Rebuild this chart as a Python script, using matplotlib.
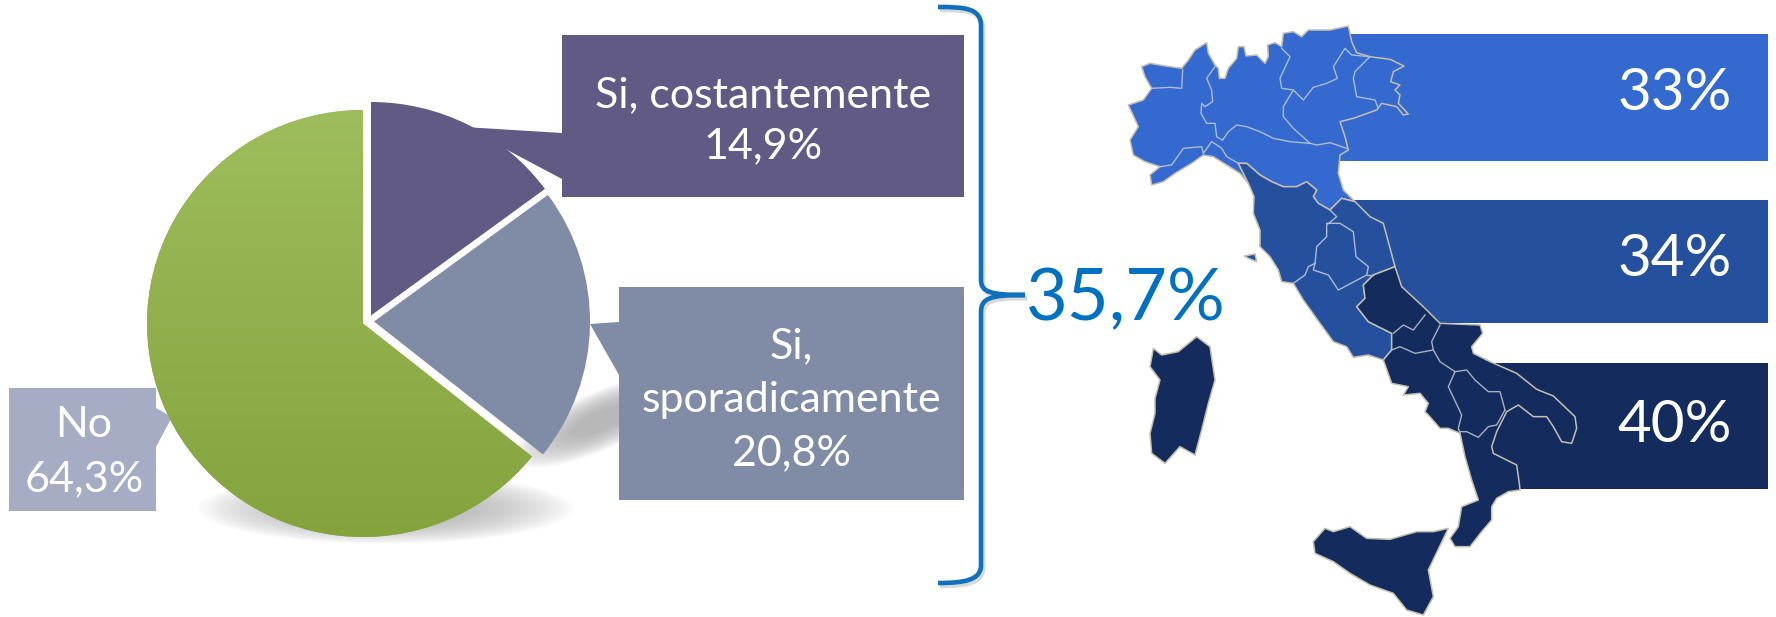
import numpy as np
import matplotlib
matplotlib.use("Agg")
import matplotlib.pyplot as plt
from matplotlib.patches import Polygon, Rectangle, PathPatch
from matplotlib.path import Path

W, H = 1776, 617

# pie
PIE_LABELS = ["Si, costantemente\n14,9%", "Si,\nsporadicamente\n20,8%", "No\n64,3%"]
PIE_VALUES = [14.9, 20.8, 64.3]
PIE_COLORS = ["#615A85", "#808BA5", "#96B454"]
BRACE_LABEL = "35,7%"

# bars next to the map
BAR_LABELS = ["33%", "34%", "40%"]
BAR_COLORS = ["#3469CF", "#25509D", "#142B5E"]

N_NORTH = [(125,200),(150,190),(190,197),(245,205),(265,180),(285,150),(320,128),(325,160),(345,195),(355,205),
           (358,235),(375,235),(385,205),(410,175),(415,140),(432,140),(438,168),(470,165),(495,190),(505,170),
           (503,135),(525,128),(545,140),(550,100),(580,95),(605,110),(625,90),(690,90),(745,78),(755,125),
           (770,158),(810,170),(870,178),(912,198),(880,215),(872,245),(900,255),(885,270),(900,285),(895,310),
           (925,342),(910,345),(890,320),(845,310),(830,330),(760,355),(720,365),(735,410),(745,450),(720,465),
           (715,520),(730,570),(765,605),(725,595),(690,630),(655,610),(640,590),(650,570),(620,545),(590,560),
           (550,560),(515,545),(480,525),(440,490),(415,490),(445,550),(420,520),(380,495),(340,470),(310,465),
           (275,490),(225,520),(190,545),(155,555),(150,525),(180,500),(135,485),(100,465),(90,420),(115,380),
           (85,315),(130,300),(155,265),(135,230)]
N_CENTER = [(415,490),(440,490),(480,525),(515,545),(550,560),(590,560),(620,545),(650,570),(640,590),(655,610),
            (690,630),(725,595),(765,605),(810,650),(850,670),(885,800),(820,825),(790,855),(795,895),(770,920),
            (805,965),(875,1000),(875,1050),(850,1080),(805,1065),(760,1072),(740,1040),(700,1025),
            (660,970),(610,900),(580,850),(545,845),(535,810),(510,770),(480,740),(480,690),(460,640),(462,590),
            (445,550)]
N_ELBA = [(433,768),(465,762),(470,785),(445,775)]
S_SOUTH = [(825,-100),(845,-40),(915,25),(960,70),(1080,75),(1088,100),(1055,140),(1060,160),(1110,185),(1190,220),
           (1250,268),(1300,288),(1365,350),(1370,385),(1355,430),(1325,425),(1300,380),(1280,350),(1240,350),
           (1195,315),(1160,335),(1130,395),(1115,440),(1120,460),(1190,495),(1198,550),(1200,570),(1165,575),
           (1130,595),(1115,620),(1115,660),(1085,695),(1050,740),(1005,740),(990,715),(1015,680),(1025,620),
           (1075,600),(1055,540),(1035,470),(1020,400),(985,385),(960,385),(925,345),(915,335),(925,310),(900,280),
           (850,285),(865,260),(815,250),(790,180),(815,150),(815,100),(745,65),(710,20),(735,-5),(730,-45),
           (760,-75)]
S_SARDINIA = [(100,145),(125,165),(175,155),(230,110),(270,140),(285,240),(265,310),(245,390),(225,465),(180,440),
              (135,490),(95,460),(90,400),(105,340),(105,295),(120,240),(90,200)]
S_SICILY = [(580,725),(615,685),(640,695),(690,680),(740,715),(810,718),(890,695),(940,695),(985,685),(925,810),
            (940,890),(910,945),(860,930),(820,880),(750,855),(690,820),(640,785),(585,760)]

# regional borders
N_BORDERS = [
    [(155,265),(210,262),(245,265),(248,210)],
    [(345,200),(320,235),(335,270),(338,305),(315,320),(305,310),(303,340),(320,370),(345,370),(350,410),(368,420)],
    [(180,500),(215,495),(250,445),(305,440),(310,460),(335,425),(365,445),(380,470),(415,490)],
    [(368,420),(385,395),(410,375),(440,380),(480,395),(520,415),(570,425),(630,430),(650,435),(690,428),(740,445)],
    [(545,145),(570,170),(540,235),(545,265),(580,270),(550,320),(550,350),(580,385),(630,430)],
    [(580,270),(610,300),(640,262),(680,250),(712,235),(700,200),(735,145),(755,165),(810,170)],
    [(810,170),(765,215),(760,235),(770,290),(825,300),(835,325)],
    [(690,630),(710,650),(680,675),(680,710),(650,740),(645,790)],
    [(680,670),(720,670),(760,695),(768,770),(805,800),(800,825),(715,870),(685,825),(640,810),(645,790)],
    [(645,790),(625,800),(615,825),(580,850)],
    [(800,825),(820,825)],
]
S_BORDERS = [
    [(915,45),(880,90),(850,75),(820,100)],
    [(815,150),(840,140),(885,160),(940,150)],
    [(960,75),(935,125),(940,150),(960,185),(1005,215)],
    [(1005,215),(985,260),(1025,345),(1015,385),(1020,400)],
    [(1005,215),(1040,210),(1065,240),(1105,275),(1140,275),(1155,330)],
    [(1020,395),(1040,395),(1075,412),(1105,380),(1130,375),(1155,330)],
]


def from_north(pts):
    return [(1100 + x / 3, y / 3) for x, y in pts]


def from_south(pts):
    return [(1120 + x / 3, 300 + y / 3) for x, y in pts]


def main():
    plt.rcParams["font.family"] = ["Lato", "DejaVu Sans"]
    fig = plt.figure(figsize=(W / 100, H / 100), dpi=100)
    ax = fig.add_axes([0, 0, 1, 1])
    ax.set_xlim(0, W)
    ax.set_ylim(H, 0)
    ax.axis("off")

    # soft shadows under the pie
    yy, xx = np.mgrid[0:H, 0:W]
    d1 = ((xx - 385) / 180.0) ** 2 + ((yy - 508) / 34.0) ** 2
    d2 = ((xx - 600) / 85.0) ** 2 + ((yy - 420 + 0.4 * (xx - 600)) / 30.0) ** 2
    shade = np.clip(1.1 - np.minimum(d1, d2), 0, 1) ** 0.9 * 0.5
    rgba = np.zeros((H, W, 4))
    rgba[..., :3] = 0.45
    rgba[..., 3] = shade
    ax.imshow(rgba, extent=(0, W, H, 0), aspect="auto", zorder=1)
    ax.set_xlim(0, W)
    ax.set_ylim(H, 0)

    # callout boxes
    ax.add_patch(Polygon([(562, 35), (964, 35), (964, 197), (562, 197), (562, 179), (464, 127), (562, 133)],
                         fc=PIE_COLORS[0], ec="none", zorder=2))
    ax.add_patch(Polygon([(619, 287), (964, 287), (964, 500), (619, 500), (619, 375), (590, 324), (619, 322)],
                         fc=PIE_COLORS[1], ec="none", zorder=2))
    ax.add_patch(Polygon([(9, 388), (156, 388), (156, 408), (172, 417), (156, 447), (156, 511), (9, 511)],
                         fc="#A7ACC5", ec="none", zorder=2))

    # pie on its own axes, top of it at y=110, bottom at y=537
    rx, ry = 216, 213.5
    cx, cy = 363, 323.5
    pax = fig.add_axes([(cx - rx * 1.2) / W, 1 - (cy + ry * 1.2) / H, rx * 2.4 / W, ry * 2.4 / H], zorder=3)
    wedges, _ = pax.pie(PIE_VALUES, colors=PIE_COLORS, startangle=90, counterclock=False, radius=1)
    pax.set_aspect("auto")
    pax.patch.set_alpha(0)
    wedges[0].set_center((8 / rx, 8 / ry))
    wedges[1].set_center((11 / rx, 2 / ry))
    # green slice has a vertical gradient
    grad = np.linspace(0, 1, 256).reshape(-1, 1, 1)
    top, bot = np.array([0.62, 0.74, 0.36]), np.array([0.52, 0.64, 0.24])
    img = pax.imshow(top * (1 - grad) + bot * grad, extent=(-1, 1, -1, 1), aspect="auto",
                     zorder=wedges[2].get_zorder() + 1)
    img.set_clip_path(wedges[2])
    pax.set_aspect("auto")
    pax.set_xlim(-1.2, 1.2)
    pax.set_ylim(-1.2, 1.2)

    fs = 31
    ax.text(763, 121, PIE_LABELS[0], color="white", fontsize=fs, ha="center", va="center", linespacing=1.42, zorder=5)
    ax.text(791, 400, PIE_LABELS[1], color="white", fontsize=fs, ha="center", va="center", linespacing=1.5, zorder=5)
    ax.text(84, 452, PIE_LABELS[2], color="white", fontsize=fs, ha="center", va="center", linespacing=1.5, zorder=5)

    # brace, with its faint shadow
    verts = [(938, 7), (965, 7), (981, 8), (981, 26), (981, 280), (981, 292), (990, 295), (1025, 295),
             (990, 295), (981, 298), (981, 312), (981, 565), (981, 580), (965, 583), (938, 583)]
    codes = [Path.MOVETO, Path.CURVE4, Path.CURVE4, Path.CURVE4, Path.LINETO, Path.CURVE4, Path.CURVE4, Path.CURVE4,
             Path.CURVE4, Path.CURVE4, Path.CURVE4, Path.LINETO, Path.CURVE4, Path.CURVE4, Path.CURVE4]
    shadow = [(x + 2, y + 3) for x, y in verts]
    ax.add_patch(PathPatch(Path(shadow, codes), fc="none", ec="#808080", alpha=0.3, lw=3.3, zorder=3))
    ax.add_patch(PathPatch(Path(verts, codes), fc="none", ec="#0F70BE", lw=3.3, zorder=4))
    ax.text(1126, 300, BRACE_LABEL, color="#0070C0", fontsize=52, ha="center", va="center", zorder=5)

    # bars
    ax.add_patch(Rectangle((1333, 34), W - 8 - 1333, 127, fc=BAR_COLORS[0], ec="none", zorder=2))
    ax.add_patch(Rectangle((1347, 200), W - 8 - 1347, 123, fc=BAR_COLORS[1], ec="none", zorder=2))
    ax.add_patch(Rectangle((1487, 363), W - 8 - 1487, 126, fc=BAR_COLORS[2], ec="none", zorder=2))
    for label, y in zip(BAR_LABELS, [94, 259, 426]):
        ax.text(1732, y, label, color="white", fontsize=42, ha="right", va="center", zorder=6)

    # map
    coast = "#C4BFAE"
    regions = [
        (from_north(N_NORTH), BAR_COLORS[0]),
        (from_north(N_CENTER), BAR_COLORS[1]),
        (from_north(N_ELBA), BAR_COLORS[1]),
        (from_south(S_SOUTH), BAR_COLORS[2]),
        (from_south(S_SARDINIA), BAR_COLORS[2]),
        (from_south(S_SICILY), BAR_COLORS[2]),
    ]
    for pts, color in regions:
        ax.add_patch(Polygon(pts, closed=True, fc=color, ec=coast, lw=1.1, joinstyle="round", zorder=3))
    for line in N_BORDERS:
        xs, ys = zip(*from_north(line))
        ax.plot(xs, ys, color="#AEBCD6", lw=1, zorder=4)
    for line in S_BORDERS:
        xs, ys = zip(*from_south(line))
        ax.plot(xs, ys, color="#A9B0BE", lw=1, zorder=4)

    fig.savefig("out.png", dpi=100)


if __name__ == "__main__":
    main()
